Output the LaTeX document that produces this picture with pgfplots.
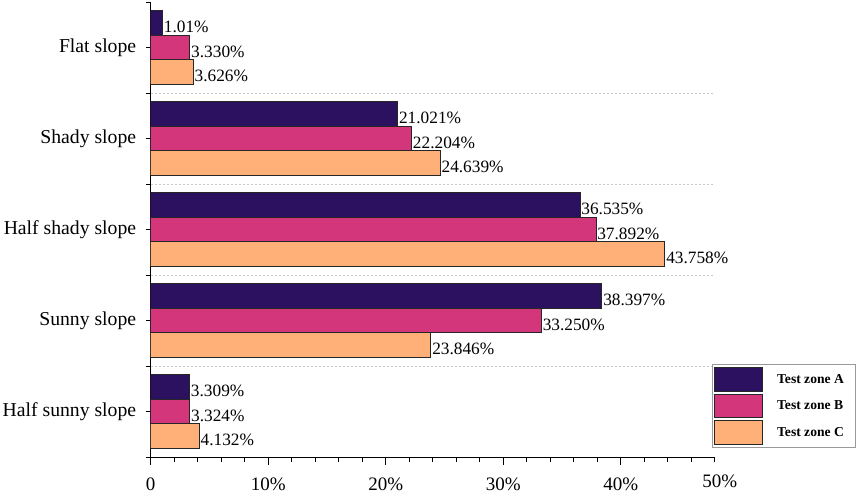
\documentclass[border=0pt]{standalone}
\usepackage{fontspec}
\setmainfont{Liberation Serif}
\usepackage{pgfplots}
\pgfplotsset{compat=1.18}
\usepackage{pgfplotstable}
\definecolor{zA}{HTML}{2C1160}
\definecolor{zB}{HTML}{D3367A}
\definecolor{zC}{HTML}{FEB078}
\definecolor{gridc}{HTML}{C8C8C8}

\pgfplotstableread{
cat val lab
0 1.01 1.01
1 21.021 21.021
2 36.535 36.535
3 38.397 38.397
4 3.309 3.309
}\dataA
\pgfplotstableread{
cat val lab
0 3.330 3.330
1 22.204 22.204
2 37.892 37.892
3 33.250 33.250
4 3.324 3.324
}\dataB
\pgfplotstableread{
cat val lab
0 3.626 3.626
1 24.639 24.639
2 43.758 43.758
3 23.846 23.846
4 4.132 4.132
}\dataC

\begin{document}
\begin{tikzpicture}
\path[use as bounding box] (-150.7pt,-37pt) rectangle (707.3pt,457pt);
\begin{axis}[
  at={(0,0)}, anchor=south west,
  scale only axis, width=564pt, height=455pt,
  xbar, bar width=24.5pt,
  xmin=0, xmax=48, ymin=-0.5, ymax=4.5, y dir=reverse,
  axis x line*=bottom, axis y line*=left,
  axis line style={line width=0.9pt, -, black},
  tick align=outside,
  major tick length=5pt, minor tick length=5pt,
  every tick/.style={black, line width=0.9pt},
  xtick={48}, xticklabels={\hspace*{10pt}50\%},
  minor xtick={0,2,...,48},
  extra x ticks={0,10,20,30,40},
  extra x tick labels={0,10\%,20\%,30\%,40\%},
  extra x tick style={major tick length=8pt},
  ytick={0,1,2,3,4},
  yticklabels={Flat slope, Shady slope, Half shady slope, Sunny slope, Half sunny slope},
  minor ytick={0.5,1.5,2.5,3.5},
  yminorgrids=true,
  minor grid style={gridc, dash pattern=on 2pt off 2pt, line width=0.7pt},
  extra y ticks={-0.5,4.5}, extra y tick labels={,},
  extra y tick style={grid=none},
  xticklabel style={font=\fontsize{19}{20}\selectfont, yshift=-9pt},
  yticklabel style={font=\fontsize{19.7}{21}\selectfont, xshift=-6pt},
  /pgf/number format/assume math mode=true,
  point meta=explicit symbolic,
  nodes near coords={\pgfplotspointmeta\%},
  nodes near coords style={anchor=west, inner xsep=1pt, yshift=-4pt, font=\fontsize{17.3}{18}\selectfont, black},
  legend image code/.code={\draw[#1, line width=0.8pt] (0pt,-11.75pt) rectangle (48pt,11.75pt);},
  legend cell align=left,
  legend style={at={(axis description cs:0.9952,0.0198)}, anchor=south west,
    draw=gray!80, line width=0.7pt, inner xsep=2pt, inner ysep=3pt,
    row sep=2.2pt, column sep=14pt, nodes={inner sep=0pt},
    font=\fontsize{13.6}{14}\selectfont\bfseries},
]
\addplot[fill=zA, draw=black!85, line width=0.8pt, bar shift=24.5pt] table[x=val, y=cat, meta=lab] {\dataA};
\addplot[fill=zB, draw=black!85, line width=0.8pt, bar shift=0pt] table[x=val, y=cat, meta=lab] {\dataB};
\addplot[fill=zC, draw=black!85, line width=0.8pt, bar shift=-24.5pt] table[x=val, y=cat, meta=lab] {\dataC};
\legend{\makebox[76.5pt][l]{Test zone A}, \makebox[76.5pt][l]{Test zone B}, \makebox[76.5pt][l]{Test zone C}}
\end{axis}
\end{tikzpicture}
\end{document}
